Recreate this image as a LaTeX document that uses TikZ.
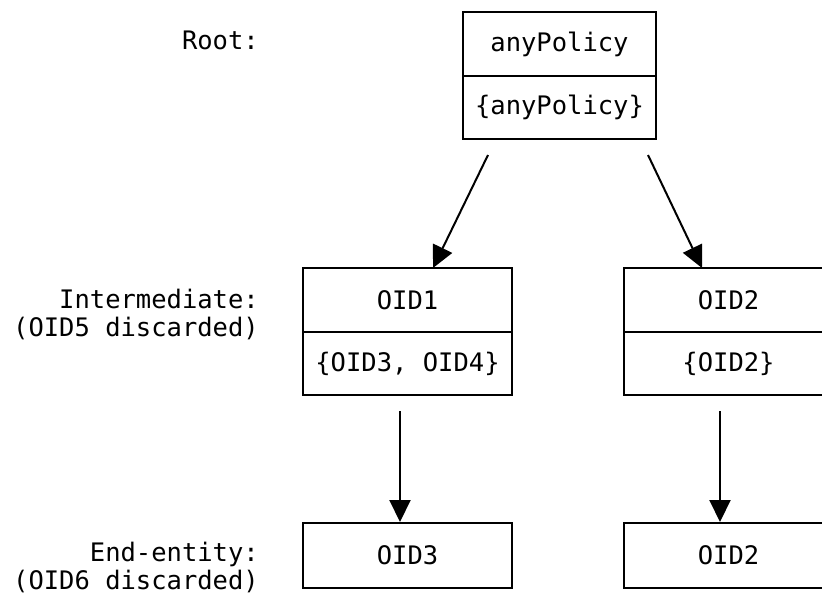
\documentclass[tikz,border=0pt]{standalone}
\usepackage{fontspec}
\newfontfamily\diagfont{DejaVu Sans Mono}
\usetikzlibrary{arrows.meta}
\begin{document}
\begin{tikzpicture}[x=1pt,y=-1pt,
  cell/.style={draw,line width=2pt,inner sep=0pt,font=\diagfont\fontsize{25.5}{28}\selectfont},
  lbl/.style={inner sep=0pt,anchor=east,align=right,font=\diagfont\fontsize{25.5}{28}\selectfont},
  arr/.style={line width=2pt,-{Triangle[length=22pt,width=21pt]}}]
\useasboundingbox (0,0) rectangle (822,598);
\clip (0,0) rectangle (822,598);
% root
\node[cell,minimum width=193pt,minimum height=64pt] (r1) at (559.5,44) {anyPolicy};
\node[cell,minimum width=193pt,minimum height=63pt] (r2) at (559.5,107.5) {\{anyPolicy\}};
% intermediate
\node[cell,minimum width=209pt,minimum height=64pt] (a1) at (407.5,300) {OID1};
\node[cell,minimum width=209pt,minimum height=63pt] (a2) at (407.5,363.5) {\{OID3, OID4\}};
\node[cell,minimum width=209pt,minimum height=64pt] (b1) at (728.5,300) {OID2};
\node[cell,minimum width=209pt,minimum height=63pt] (b2) at (728.5,363.5) {\{OID2\}};
% end-entity
\node[cell,minimum width=209pt,minimum height=65pt] (c1) at (407.5,555.5) {OID3};
\node[cell,minimum width=209pt,minimum height=65pt] (d1) at (728.5,555.5) {OID2};
% labels
\node[lbl] (lroot) at (259,40) {Root:};
\node[lbl] (lint) at (259,314) {Intermediate:\\(OID5 discarded)};
\node[lbl] (lend) at (259,567) {End-entity:\\(OID6 discarded)};
% arrow endpoints
\coordinate (s1) at (488,155);
\coordinate (t1) at (433,268);
\coordinate (s2) at (648,155);
\coordinate (t2) at (702,268);
\coordinate (s3) at (400,411);
\coordinate (s4) at (720,411);
\draw[arr] (s1) -- (t1);
\draw[arr] (s2) -- (t2);
\draw[arr] (s3) -- (s3 |- c1.north);
\draw[arr] (s4) -- (s4 |- d1.north);
\end{tikzpicture}
\end{document}
